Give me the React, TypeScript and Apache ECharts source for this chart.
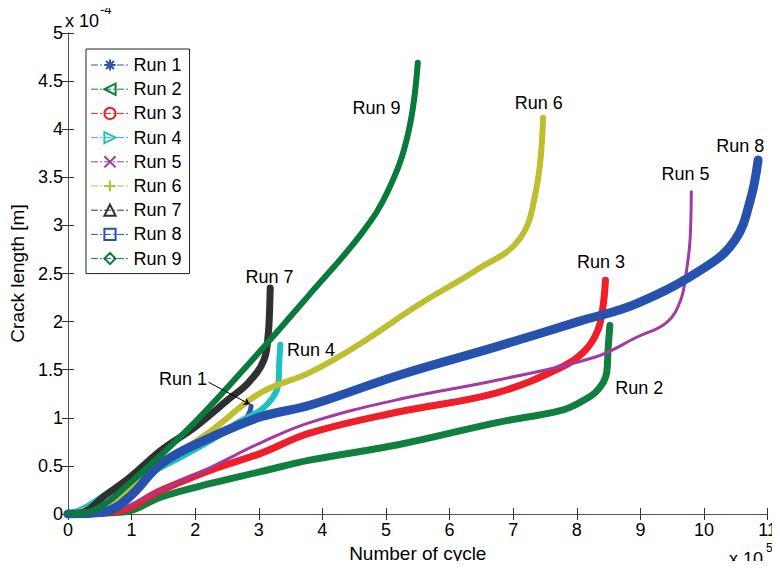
import React, { useEffect, useRef } from 'react';
import * as echarts from 'echarts';

// x in units of 1e5 cycles, y in units of 1e-4 m
const runNames = ['Run 1', 'Run 2', 'Run 3', 'Run 4', 'Run 5', 'Run 6', 'Run 7', 'Run 8', 'Run 9'];
const runColors = ['#2a52ae', '#11803f', '#f01e28', '#1fc0c0', '#a23aa2', '#bdbf2e', '#303030', '#2652ae', '#0a7a3c'];
const runWidths = [5, 7, 7, 6, 3, 6, 7, 9, 6];

const run1X = [0, 0.56, 0.97, 1.48, 2.1, 2.5, 2.75, 2.85, 2.88];
const run1Y = [0, 0.04, 0.2, 0.5, 0.75, 0.88, 0.96, 1.05, 1.12];
const run2X = [0, 0.87, 1.48, 2.26, 3.03, 3.8, 5.19, 6.74, 7.77, 8.13, 8.33, 8.47, 8.49, 8.52];
const run2Y = [0, 0.02, 0.18, 0.32, 0.44, 0.56, 0.72, 0.95, 1.08, 1.19, 1.29, 1.47, 1.7, 1.96];
const run3X = [0, 0.71, 1.48, 2.26, 3.03, 3.8, 5.19, 6.74, 7.77, 8.13, 8.33, 8.41, 8.45];
const run3Y = [0, 0.02, 0.25, 0.46, 0.63, 0.84, 1.06, 1.26, 1.53, 1.7, 1.91, 2.15, 2.43];
const run4X = [0, 0.25, 0.71, 1.48, 2.26, 2.67, 3.03, 3.23, 3.31, 3.32, 3.34];
const run4Y = [0, 0.06, 0.25, 0.49, 0.77, 0.95, 1.08, 1.22, 1.36, 1.55, 1.76];
const run5X = [0, 0.71, 1.48, 2.26, 3.03, 3.8, 5.19, 6.74, 8.28, 8.95, 9.41, 9.63, 9.72, 9.78, 9.8];
const run5Y = [0, 0.04, 0.25, 0.49, 0.74, 0.95, 1.19, 1.39, 1.63, 1.84, 1.99, 2.22, 2.51, 2.85, 3.35];
const run6X = [0, 0.71, 1.64, 2.26, 3.03, 3.8, 4.57, 5.5, 6.43, 7.09, 7.36, 7.47];
const run6Y = [0, 0.15, 0.59, 0.87, 1.26, 1.47, 1.76, 2.17, 2.54, 2.85, 3.37, 4.12];
const run7X = [0, 0.25, 0.56, 0.97, 1.48, 1.99, 2.52, 2.83, 3.08, 3.15, 3.17, 3.18];
const run7Y = [0, 0.02, 0.18, 0.38, 0.67, 0.9, 1.19, 1.36, 1.6, 1.88, 2.12, 2.35];
const run8X = [0, 0.56, 0.97, 1.48, 2.26, 3.03, 3.8, 5.19, 6.74, 8.02, 8.95, 10.03, 10.49, 10.73, 10.85];
const run8Y = [0, 0.02, 0.18, 0.53, 0.8, 1.01, 1.13, 1.44, 1.74, 2.0, 2.19, 2.57, 2.85, 3.27, 3.68];
const run9X = [0, 0.4, 0.97, 1.99, 3.03, 3.77, 4.62, 5.04, 5.35, 5.5];
const run9Y = [0, 0.04, 0.32, 0.95, 1.7, 2.26, 2.92, 3.37, 3.96, 4.69];

const runXs = [run1X, run2X, run3X, run4X, run5X, run6X, run7X, run8X, run9X];
const runYs = [run1Y, run2Y, run3Y, run4Y, run5Y, run6Y, run7Y, run8Y, run9Y];

// annotation text positions (data coordinates)
const labelX = [1.81, 8.98, 8.38, 3.82, 9.71, 7.4, 3.17, 10.57, 4.85];
const labelY = [1.4, 1.31, 2.62, 1.7, 3.53, 4.27, 2.46, 3.83, 4.22];
const arrowFrom = [2.21, 1.37];
const arrowTo = [2.86, 1.14];

const symbols = [
  'path://M5,0L5,10M0,5L10,5M1.5,1.5L8.5,8.5M8.5,1.5L1.5,8.5',
  'path://M0,5L10,0L10,10Z',
  'circle',
  'path://M10,5L0,0L0,10Z',
  'path://M0,0L10,10M10,0L0,10',
  'path://M5,0L5,10M0,5L10,5',
  'triangle',
  'rect',
  'diamond',
];

const FONT = "'Liberation Sans', Arial, sans-serif";

export default function App() {
  const ref = useRef<HTMLDivElement>(null);
  useEffect(() => {
    if (!ref.current) return;
    const chart = echarts.init(ref.current, undefined, { renderer: 'svg' });
    const series: any[] = runNames.map((name, i) => {
      const s: any = {
        type: 'line',
        name,
        data: runXs[i].map((x, j) => [x, runYs[i][j]]),
        smooth: 0.4,
        showSymbol: false,
        symbol: symbols[i],
        symbolSize: 8,
        color: runColors[i],
        lineStyle: { color: runColors[i], width: runWidths[i], cap: 'round', join: 'round' },
        itemStyle: { color: 'rgba(255,255,255,0)', borderColor: runColors[i], borderWidth: 1 },
        markPoint: {
          silent: true,
          symbol: 'circle',
          symbolSize: 0,
          data: [{ coord: [labelX[i], labelY[i]] }],
          label: {
            show: true,
            position: 'inside',
            formatter: name,
            color: '#000',
            fontSize: 18,
            fontFamily: FONT,
          },
        },
      };
      if (i === 0) {
        s.markLine = {
          silent: true,
          symbol: ['none', 'arrow'],
          symbolSize: 6,
          lineStyle: { color: '#000', width: 1, type: 'solid' },
          label: { show: false },
          data: [[{ coord: arrowFrom }, { coord: arrowTo }]],
        };
      }
      return s;
    });

    chart.setOption({
      animation: false,
      backgroundColor: '#fff',
      grid: { left: 65, right: 3, top: 33, bottom: 55, containLabel: false },
      legend: {
        orient: 'vertical',
        left: 86,
        top: 49,
        padding: [6, 8, 5, 5],
        itemWidth: 37,
        itemHeight: 14,
        itemGap: 4.2,
        backgroundColor: '#fff',
        borderColor: '#222',
        borderWidth: 1,
        borderRadius: 0,
        textStyle: { fontSize: 18, fontFamily: FONT, color: '#000', lineHeight: 20 },
        lineStyle: { width: 1, type: [6, 3, 1, 3] },
        data: runNames,
      },
      xAxis: [
        {
          type: 'value',
          min: 0,
          max: 11,
          interval: 1,
          name: 'Number of cycle',
          nameLocation: 'middle',
          nameGap: 24,
          nameTextStyle: { fontSize: 19, fontFamily: FONT, color: '#000' },
          axisLine: { show: true, lineStyle: { color: '#555', width: 1 } },
          axisTick: { inside: true, length: 6, lineStyle: { color: '#333' } },
          axisLabel: { fontSize: 18, fontFamily: FONT, color: '#000', margin: 7 },
          splitLine: { show: false },
        },
        {
          type: 'value',
          position: 'top',
          min: 0,
          max: 11,
          interval: 1,
          axisLine: { show: true, lineStyle: { color: '#555', width: 1 } },
          axisTick: { inside: true, length: 6, lineStyle: { color: '#333' } },
          axisLabel: { show: false },
          splitLine: { show: false },
        },
      ],
      yAxis: [
        {
          type: 'value',
          min: 0,
          max: 5,
          interval: 0.5,
          name: 'Crack length [m]',
          nameLocation: 'middle',
          nameGap: 34,
          nameTextStyle: { fontSize: 19, fontFamily: FONT, color: '#000' },
          axisLine: { show: true, lineStyle: { color: '#555', width: 1 } },
          axisTick: { inside: true, length: 6, lineStyle: { color: '#333' } },
          axisLabel: { fontSize: 18, fontFamily: FONT, color: '#000', margin: 5 },
          splitLine: { show: false },
        },
        {
          type: 'value',
          position: 'right',
          min: 0,
          max: 5,
          interval: 0.5,
          axisLine: { show: true, lineStyle: { color: '#555', width: 1 } },
          axisTick: { inside: true, length: 6, lineStyle: { color: '#333' } },
          axisLabel: { show: false },
          splitLine: { show: false },
        },
      ],
      graphic: [
        { type: 'text', left: 65, top: 12, style: { text: 'x 10', fontSize: 18, fontFamily: FONT, fill: '#000' } },
        { type: 'text', left: 100, top: 3, style: { text: '-4', fontSize: 13, fontFamily: FONT, fill: '#000' } },
        { type: 'text', left: 729, top: 550, style: { text: 'x 10', fontSize: 18, fontFamily: FONT, fill: '#000' } },
        { type: 'text', left: 766, top: 542, style: { text: '5', fontSize: 12, fontFamily: FONT, fill: '#000' } },
      ],
      series,
    });
    return () => chart.dispose();
  }, []);
  return <div ref={ref} style={{ width: 780, height: 569, margin: -8 }} />;
}
